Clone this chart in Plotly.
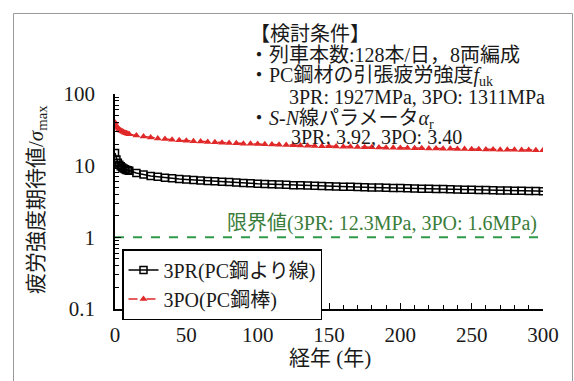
import plotly.graph_objects as go

# ---- data ----
years = [0, 1, 2, 3, 4, 5, 6, 7, 8, 9, 10,
         15, 20, 25, 30, 35, 40, 45, 50, 55, 60, 65, 70, 75, 80, 85, 90, 95, 100,
         105, 110, 115, 120, 125, 130, 135, 140, 145, 150, 155, 160, 165, 170, 175,
         180, 185, 190, 195, 200, 205, 210, 215, 220, 225, 230, 235, 240, 245, 250,
         255, 260, 265, 270, 275, 280, 285, 290, 295, 300]

pr_3pr = [15.0, 12.2, 11.0, 10.3, 9.8, 9.4, 9.1, 8.9, 8.7, 8.6, 8.5,
          7.9, 7.5, 7.2, 7.0, 6.8, 6.65, 6.5, 6.4, 6.3, 6.2, 6.12, 6.05, 5.97, 5.9, 5.82, 5.75, 5.68, 5.6,
          5.55, 5.5, 5.45, 5.4, 5.35, 5.31, 5.27, 5.23, 5.19, 5.15, 5.12, 5.09, 5.06, 5.03, 5.0,
          4.97, 4.94, 4.91, 4.89, 4.87, 4.84, 4.81, 4.78, 4.76, 4.74, 4.71, 4.68, 4.65, 4.63, 4.6,
          4.58, 4.56, 4.54, 4.52, 4.5, 4.48, 4.46, 4.44, 4.42, 4.4]

po_3po = [40.0, 35.5, 33.5, 32.0, 31.0, 30.2, 29.5, 28.9, 28.4, 27.9, 27.5,
          26.3, 25.5, 24.7, 24.0, 23.5, 23.0, 22.6, 22.3, 22.0, 21.7, 21.4, 21.2, 20.9, 20.7, 20.5, 20.3, 20.15, 20.0,
          19.85, 19.7, 19.55, 19.4, 19.25, 19.12, 19.0, 18.85, 18.72, 18.6, 18.5, 18.4, 18.3, 18.2, 18.1,
          18.0, 17.9, 17.85, 17.77, 17.7, 17.62, 17.55, 17.47, 17.4, 17.33, 17.27, 17.2, 17.13, 17.07, 17.0,
          16.93, 16.87, 16.8, 16.74, 16.68, 16.62, 16.56, 16.5, 16.45, 16.4]

limit_value = 1.0
x_ticks = [0, 50, 100, 150, 200, 250, 300]
y_ticks = [0.1, 1, 10, 100]
y_tick_text = ["0.1", "1", "10", "100"]
y_minor = [m * d for d in (0.1, 1, 10) for m in range(2, 10)]

legend_names = ["3PR(PC鋼より線)", "3PO(PC鋼棒)"]
limit_label = "限界値(3PR: 12.3MPa, 3PO: 1.6MPa)"
cond_lines = [
    "【検討条件】",
    "・列車本数:128本/日，8両編成",
    "・PC鋼材の引張疲労強度<i>f</i><sub>uk</sub>",
    "3PR: 1927MPa, 3PO: 1311MPa",
    "・<i>S-N</i>線パラメータ<i>α</i><sub>r</sub>",
    "3PR: 3.92, 3PO: 3.40",
]
x_title = "経年 (年)"
y_title = "疲労強度期待値/<i>σ</i><sub>max</sub>"

# ---- layout geometry ----
W, H = 574, 381
L, R, T, B = 115, 31, 94, 72
PW, PH = W - L - R, H - T - B
FONT = "Liberation Serif, Times New Roman, Noto Sans CJK JP, serif"
TXT = "#1a1a1a"


def px(x):
    return (x - L) / PW


def py(y):
    return (H - B - y) / PH


fig = go.Figure()
fig.add_trace(go.Scatter(
    x=years, y=pr_3pr, name=legend_names[0], mode="lines+markers",
    line=dict(color="black", width=1.5),
    marker=dict(symbol="square-open", size=7, color="black", line=dict(width=1.5)),
))
fig.add_trace(go.Scatter(
    x=years, y=po_3po, name=legend_names[1], mode="lines+markers",
    line=dict(color="#e02828", width=1.5, dash="dash"),
    marker=dict(symbol="triangle-up", size=7, color="#e02828"),
))
fig.add_trace(go.Scatter(
    x=[0, 297], y=[limit_value, limit_value], mode="lines", showlegend=False,
    line=dict(color="#2f9a4a", width=2, dash="dash"),
))

annotations = []
cond_pos = [(248, 34), (247, 55), (247, 77), (287, 97), (247, 119), (289, 137)]
for text, (ax, ay) in zip(cond_lines, cond_pos):
    annotations.append(dict(x=px(ax), y=py(ay), xref="paper", yref="paper",
                            text=text, showarrow=False, xanchor="left", yanchor="middle",
                            font=dict(family=FONT, size=20, color=TXT)))
annotations.append(dict(x=px(225), y=py(223), xref="paper", yref="paper",
                        text=limit_label, showarrow=False, xanchor="left", yanchor="middle",
                        font=dict(family=FONT, size=20, color="#3a7d3a")))
# axis titles
annotations.append(dict(x=px(37), y=py(200), xref="paper", yref="paper",
                        text=y_title, showarrow=False, textangle=-90,
                        xanchor="center", yanchor="middle",
                        font=dict(family=FONT, size=21, color=TXT)))
annotations.append(dict(x=px(330), y=py(358), xref="paper", yref="paper",
                        text=x_title, showarrow=False,
                        xanchor="center", yanchor="middle",
                        font=dict(family=FONT, size=21, color=TXT)))

shapes = [dict(type="rect", xref="paper", yref="paper",
               x0=px(13.5), x1=px(572.5), y0=py(395), y1=py(13.5),
               line=dict(color="#999999", width=1), layer="below")]

fig.update_layout(
    width=W, height=H,
    margin=dict(l=L, r=R, t=T, b=B, autoexpand=False),
    paper_bgcolor="white", plot_bgcolor="white",
    font=dict(family=FONT, size=21, color=TXT),
    showlegend=True,
    legend=dict(x=px(122), y=py(249), xanchor="left", yanchor="top",
                bordercolor="black", borderwidth=1.5, bgcolor="white",
                font=dict(family=FONT, size=20, color=TXT),
                tracegroupgap=0, itemwidth=30),
    annotations=annotations,
    shapes=shapes,
)
fig.update_xaxes(
    range=[0, 300], tickmode="array", tickvals=x_ticks, automargin=False,
    showline=True, linecolor="black", linewidth=1.5, showgrid=False, zeroline=False,
    ticks="inside", ticklen=6, tickcolor="black", tickwidth=1,
    minor=dict(dtick=10, ticks="inside", ticklen=4, tickcolor="black", showgrid=False),
    ticklabelstandoff=6,
)
fig.update_yaxes(
    type="log", range=[-1, 2], tickmode="array", tickvals=y_ticks, ticktext=y_tick_text,
    automargin=False,
    showline=True, linecolor="black", linewidth=1.5, showgrid=False, zeroline=False,
    ticks="inside", ticklen=6, tickcolor="black", tickwidth=1,
    minor=dict(tickmode="array", tickvals=y_minor, ticks="inside", ticklen=4,
               tickcolor="black", showgrid=False),
    ticklabelstandoff=14,
)

fig.write_html("out.html", config={"displayModeBar": False},
               post_script="document.body.style.margin='0';document.body.style.overflow='hidden';")
